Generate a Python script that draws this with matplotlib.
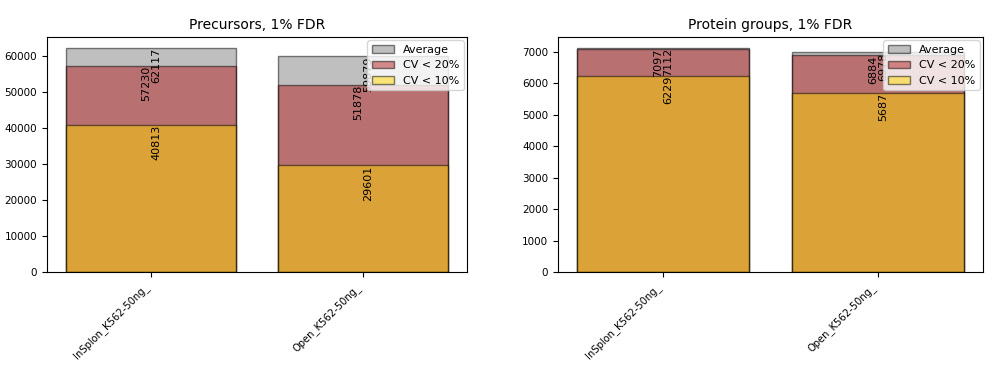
import matplotlib
matplotlib.use("Agg")
import matplotlib.pyplot as plt
import numpy as np

samples = ["InSpIon_K562-50ng_", "Open_K562-50ng_"]
prec_avg = [62117, 59879]
prec_cv20 = [57230, 51878]
prec_cv10 = [40813, 29601]
prot_avg = [7112, 6978]
prot_cv20 = [7097, 6884]
prot_cv10 = [6229, 5687]

W, H = 993, 375
fig = plt.figure(figsize=(W / 100, H / 100), dpi=100)
ax1 = fig.add_axes([47 / W, 103 / H, 420 / W, 235 / H])
ax2 = fig.add_axes([558 / W, 103 / H, 425 / W, 235 / H])

def draw(ax, avg, cv20, cv10, title):
    x = np.arange(len(samples))
    ax.bar(x, avg, width=0.8, color="grey", alpha=0.5, edgecolor="black", linewidth=1, label="Average")
    ax.bar(x, cv20, width=0.8, color="firebrick", alpha=0.5, edgecolor="black", linewidth=1, label="CV < 20%")
    ax.bar(x, cv10, width=0.8, color="gold", alpha=0.5, edgecolor="black", linewidth=1, label="CV < 10%")
    for i in x:
        ax.text(i, avg[i], str(avg[i]), rotation=90, ha="left", va="top", fontsize=8)
        ax.text(i, cv20[i], str(cv20[i]), rotation=90, ha="right", va="top", fontsize=8)
        ax.text(i, cv10[i], str(cv10[i]), rotation=90, ha="left", va="top", fontsize=8)
    ax.set_xticks(x)
    ax.set_xticklabels(samples, rotation=45, ha="right", fontsize=7.2)
    ax.tick_params(axis="y", labelsize=7.5)
    ax.set_title(title, fontsize=10)
    ax.legend(loc="upper right", fontsize=8, borderaxespad=0.3)

draw(ax1, prec_avg, prec_cv20, prec_cv10, "Precursors, 1% FDR")
draw(ax2, prot_avg, prot_cv20, prot_cv10, "Protein groups, 1% FDR")

fig.savefig("out.png", dpi=100)
